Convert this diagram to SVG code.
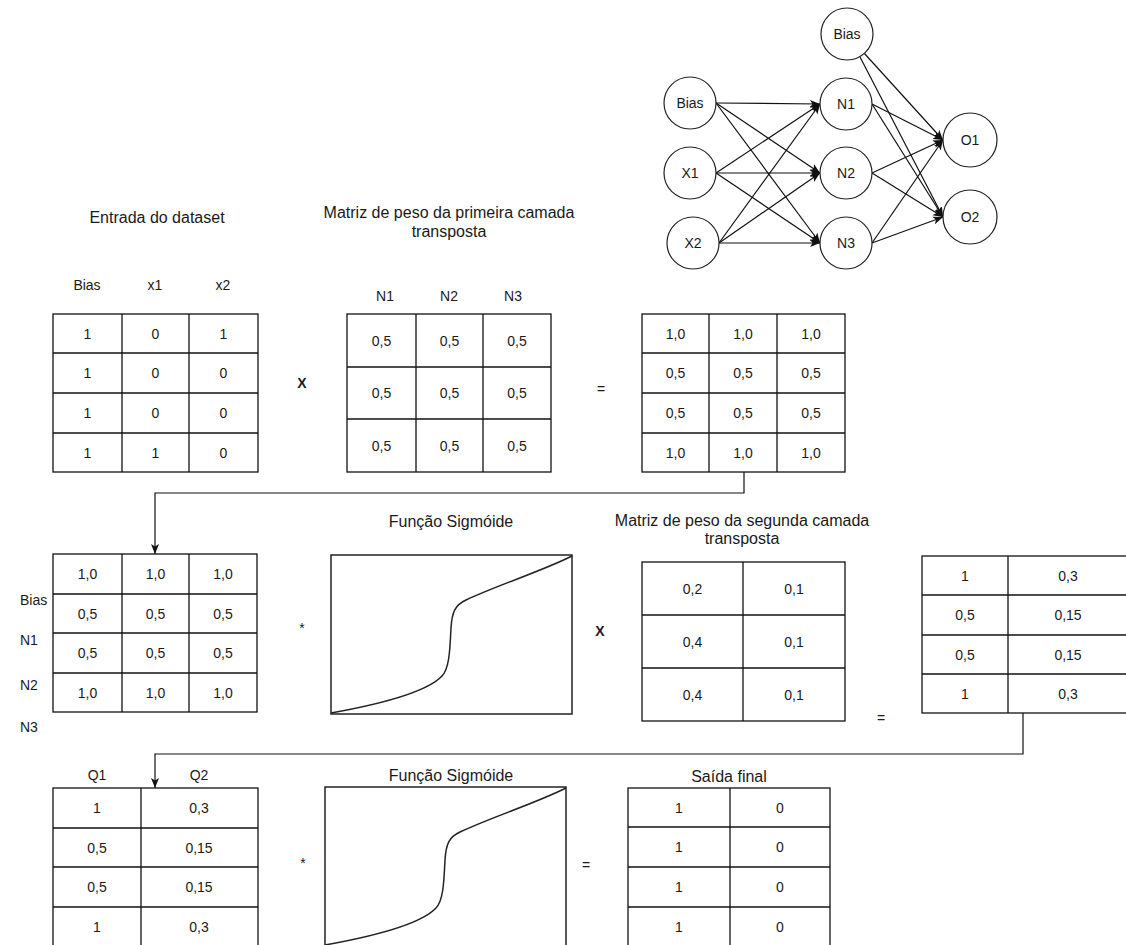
<svg xmlns="http://www.w3.org/2000/svg" width="1126" height="945" viewBox="0 0 1126 945">
  <style>
    text { font-family: "Liberation Sans", Arial, sans-serif; fill: #1a1a1a; }
    .cell { font-size: 14px; text-anchor: middle; dominant-baseline: central; }
    .title { font-size: 16px; text-anchor: middle; dominant-baseline: central; }
    .lbl { font-size: 14px; dominant-baseline: central; }
    .op { font-size: 14px; text-anchor: middle; dominant-baseline: central; }
    .opx { font-size: 14px; font-weight: bold; text-anchor: middle; dominant-baseline: central; }
    .grid rect, .grid line { fill: #fff; stroke: #111; stroke-width: 1.3; }
    .grid line { fill: none; }
    .node circle { fill: #fff; stroke: #222; stroke-width: 1.2; }
    .edge { fill: none; stroke: #111; stroke-width: 1.2; }
    .curve { fill: none; stroke: #222; stroke-width: 1.5; }
    .plot { fill: #fff; stroke: #222; stroke-width: 1.5; }
  </style>
  <defs>
    <marker id="arrow" markerUnits="userSpaceOnUse" markerWidth="11" markerHeight="10" refX="10" refY="5" orient="auto">
      <path d="M0,1 L10,5 L0,9 L2.5,5 z" fill="#111"/>
    </marker>
    <path id="sigmoid" d="M331,713 C370,706 425,694 442,676 C450,668 450,645 451,628 C452,612 455,605 466,600 C500,584 540,572 572,556"/>
  </defs>

  <rect width="1126" height="945" fill="#fff"/>

  <!-- network: connectors -->
  <g id="nn-connectors">
    <line class="edge" x1="716" y1="103" x2="820" y2="104" marker-end="url(#arrow)"/>
    <line class="edge" x1="716" y1="103" x2="820" y2="173" marker-end="url(#arrow)"/>
    <line class="edge" x1="716" y1="103" x2="820" y2="243" marker-end="url(#arrow)"/>
    <line class="edge" x1="716" y1="173" x2="820" y2="104" marker-end="url(#arrow)"/>
    <line class="edge" x1="716" y1="173" x2="820" y2="173" marker-end="url(#arrow)"/>
    <line class="edge" x1="716" y1="173" x2="820" y2="243" marker-end="url(#arrow)"/>
    <line class="edge" x1="719" y1="243" x2="820" y2="104" marker-end="url(#arrow)"/>
    <line class="edge" x1="719" y1="243" x2="820" y2="173" marker-end="url(#arrow)"/>
    <line class="edge" x1="719" y1="243" x2="820" y2="243" marker-end="url(#arrow)"/>
    <line class="edge" x1="872" y1="104" x2="943" y2="140" marker-end="url(#arrow)"/>
    <line class="edge" x1="872" y1="104" x2="943" y2="217" marker-end="url(#arrow)"/>
    <line class="edge" x1="872" y1="173" x2="943" y2="140" marker-end="url(#arrow)"/>
    <line class="edge" x1="872" y1="173" x2="943" y2="217" marker-end="url(#arrow)"/>
    <line class="edge" x1="872" y1="243" x2="943" y2="140" marker-end="url(#arrow)"/>
    <line class="edge" x1="872" y1="243" x2="943" y2="217" marker-end="url(#arrow)"/>
    <line class="edge" x1="864" y1="53" x2="943" y2="140" marker-end="url(#arrow)"/>
    <line class="edge" x1="860" y1="57" x2="943" y2="217" marker-end="url(#arrow)"/>
  </g>

  <!-- network: neurons -->
  <g id="nn-bias-in" class="node"><circle cx="690" cy="103" r="26"/><text class="cell" x="690" y="103">Bias</text></g>
  <g id="nn-x1" class="node"><circle cx="690" cy="173" r="26"/><text class="cell" x="690" y="173">X1</text></g>
  <g id="nn-x2" class="node"><circle cx="693" cy="243" r="26"/><text class="cell" x="693" y="243">X2</text></g>
  <g id="nn-bias-hidden" class="node"><circle cx="847" cy="34" r="26"/><text class="cell" x="847" y="34">Bias</text></g>
  <g id="nn-n1" class="node"><circle cx="846" cy="104" r="26"/><text class="cell" x="846" y="104">N1</text></g>
  <g id="nn-n2" class="node"><circle cx="846" cy="173" r="26"/><text class="cell" x="846" y="173">N2</text></g>
  <g id="nn-n3" class="node"><circle cx="846" cy="243" r="26"/><text class="cell" x="846" y="243">N3</text></g>
  <g id="nn-o1" class="node"><circle cx="970" cy="140" r="27"/><text class="cell" x="970" y="140">O1</text></g>
  <g id="nn-o2" class="node"><circle cx="970" cy="217" r="27"/><text class="cell" x="970" y="217">O2</text></g>

  <!-- flow connectors between stages -->
  <g id="connectors">
    <polyline class="edge" points="744,472 744,493 155,493 155,554" marker-end="url(#arrow)"/>
    <polyline class="edge" points="1023,713 1023,754 155,754 155,788" marker-end="url(#arrow)"/>
  </g>

  <!-- input dataset -->
  <g id="input-dataset">
    <text class="title" x="157" y="217">Entrada do dataset</text>
    <text class="cell" x="87" y="285">Bias</text>
    <text class="cell" x="155" y="285">x1</text>
    <text class="cell" x="223" y="285">x2</text>
    <g class="grid">
      <rect x="53" y="314" width="205" height="158"/>
      <line x1="122" y1="314" x2="122" y2="472"/><line x1="189" y1="314" x2="189" y2="472"/>
      <line x1="53" y1="353" x2="258" y2="353"/><line x1="53" y1="393" x2="258" y2="393"/><line x1="53" y1="433" x2="258" y2="433"/>
    </g>
    <text class="cell" x="87.5" y="333.5">1</text><text class="cell" x="155.5" y="333.5">0</text><text class="cell" x="223.5" y="333.5">1</text>
    <text class="cell" x="87.5" y="373">1</text><text class="cell" x="155.5" y="373">0</text><text class="cell" x="223.5" y="373">0</text>
    <text class="cell" x="87.5" y="413">1</text><text class="cell" x="155.5" y="413">0</text><text class="cell" x="223.5" y="413">0</text>
    <text class="cell" x="87.5" y="452.5">1</text><text class="cell" x="155.5" y="452.5">1</text><text class="cell" x="223.5" y="452.5">0</text>
  </g>

  <text id="op-mul-1" class="opx" x="302" y="383">X</text>

  <!-- first layer weights -->
  <g id="weights-layer1">
    <text class="title" x="449" y="212">Matriz de peso da primeira camada</text>
    <text class="title" x="449" y="231">transposta</text>
    <text class="cell" x="385" y="296">N1</text>
    <text class="cell" x="449" y="296">N2</text>
    <text class="cell" x="513" y="296">N3</text>
    <g class="grid">
      <rect x="347" y="314" width="204" height="158"/>
      <line x1="416" y1="314" x2="416" y2="472"/><line x1="483" y1="314" x2="483" y2="472"/>
      <line x1="347" y1="367" x2="551" y2="367"/><line x1="347" y1="419" x2="551" y2="419"/>
    </g>
    <text class="cell" x="381.5" y="340.5">0,5</text><text class="cell" x="449.5" y="340.5">0,5</text><text class="cell" x="517" y="340.5">0,5</text>
    <text class="cell" x="381.5" y="393">0,5</text><text class="cell" x="449.5" y="393">0,5</text><text class="cell" x="517" y="393">0,5</text>
    <text class="cell" x="381.5" y="445.5">0,5</text><text class="cell" x="449.5" y="445.5">0,5</text><text class="cell" x="517" y="445.5">0,5</text>
  </g>

  <text id="op-eq-1" class="op" x="601" y="389">=</text>

  <!-- hidden layer net input -->
  <g id="hidden-sum">
    <g class="grid">
      <rect x="642" y="314" width="203" height="158"/>
      <line x1="709" y1="314" x2="709" y2="472"/><line x1="777" y1="314" x2="777" y2="472"/>
      <line x1="642" y1="353" x2="845" y2="353"/><line x1="642" y1="393" x2="845" y2="393"/><line x1="642" y1="433" x2="845" y2="433"/>
    </g>
    <text class="cell" x="675.5" y="333.5">1,0</text><text class="cell" x="743" y="333.5">1,0</text><text class="cell" x="811" y="333.5">1,0</text>
    <text class="cell" x="675.5" y="373">0,5</text><text class="cell" x="743" y="373">0,5</text><text class="cell" x="811" y="373">0,5</text>
    <text class="cell" x="675.5" y="413">0,5</text><text class="cell" x="743" y="413">0,5</text><text class="cell" x="811" y="413">0,5</text>
    <text class="cell" x="675.5" y="452.5">1,0</text><text class="cell" x="743" y="452.5">1,0</text><text class="cell" x="811" y="452.5">1,0</text>
  </g>

  <!-- hidden layer input copy with row labels -->
  <g id="hidden-input">
    <text class="lbl" x="20" y="600">Bias</text>
    <text class="lbl" x="20" y="640">N1</text>
    <text class="lbl" x="20" y="685">N2</text>
    <text class="lbl" x="20" y="727">N3</text>
    <g class="grid">
      <rect x="53" y="554" width="204" height="158"/>
      <line x1="122" y1="554" x2="122" y2="712"/><line x1="189" y1="554" x2="189" y2="712"/>
      <line x1="53" y1="594" x2="257" y2="594"/><line x1="53" y1="633" x2="257" y2="633"/><line x1="53" y1="673" x2="257" y2="673"/>
    </g>
    <text class="cell" x="87.5" y="574">1,0</text><text class="cell" x="155.5" y="574">1,0</text><text class="cell" x="223" y="574">1,0</text>
    <text class="cell" x="87.5" y="613.5">0,5</text><text class="cell" x="155.5" y="613.5">0,5</text><text class="cell" x="223" y="613.5">0,5</text>
    <text class="cell" x="87.5" y="653">0,5</text><text class="cell" x="155.5" y="653">0,5</text><text class="cell" x="223" y="653">0,5</text>
    <text class="cell" x="87.5" y="692.5">1,0</text><text class="cell" x="155.5" y="692.5">1,0</text><text class="cell" x="223" y="692.5">1,0</text>
  </g>

  <text id="op-star-1" class="op" x="302" y="628">*</text>

  <!-- sigmoid, hidden layer -->
  <g id="sigmoid-hidden">
    <text class="title" x="451" y="521">Função Sigmóide</text>
    <rect class="plot" x="331" y="555" width="241" height="159"/>
    <use href="#sigmoid" class="curve"/>
  </g>

  <text id="op-mul-2" class="opx" x="600" y="631">X</text>

  <!-- second layer weights -->
  <g id="weights-layer2">
    <text class="title" x="742" y="520">Matriz de peso da segunda camada</text>
    <text class="title" x="742" y="538">transposta</text>
    <g class="grid">
      <rect x="642" y="562" width="203" height="159"/>
      <line x1="743" y1="562" x2="743" y2="721"/>
      <line x1="642" y1="615" x2="845" y2="615"/><line x1="642" y1="668" x2="845" y2="668"/>
    </g>
    <text class="cell" x="692.5" y="588.5">0,2</text><text class="cell" x="794" y="588.5">0,1</text>
    <text class="cell" x="692.5" y="641.5">0,4</text><text class="cell" x="794" y="641.5">0,1</text>
    <text class="cell" x="692.5" y="694.5">0,4</text><text class="cell" x="794" y="694.5">0,1</text>
  </g>

  <text id="op-eq-2" class="op" x="881" y="718">=</text>

  <!-- output layer net input -->
  <g id="output-sum">
    <g class="grid">
      <rect x="922" y="556" width="206" height="157"/>
      <line x1="1008" y1="556" x2="1008" y2="713"/>
      <line x1="922" y1="595" x2="1128" y2="595"/><line x1="922" y1="635" x2="1128" y2="635"/><line x1="922" y1="674" x2="1128" y2="674"/>
    </g>
    <text class="cell" x="965" y="575.5">1</text><text class="cell" x="1068" y="575.5">0,3</text>
    <text class="cell" x="965" y="615">0,5</text><text class="cell" x="1068" y="615">0,15</text>
    <text class="cell" x="965" y="654.5">0,5</text><text class="cell" x="1068" y="654.5">0,15</text>
    <text class="cell" x="965" y="693.5">1</text><text class="cell" x="1068" y="693.5">0,3</text>
  </g>

  <!-- output layer input copy -->
  <g id="output-input">
    <text class="cell" x="97" y="775">Q1</text>
    <text class="cell" x="199" y="775">Q2</text>
    <g class="grid">
      <rect x="53" y="788" width="205" height="158"/>
      <line x1="141" y1="788" x2="141" y2="946"/>
      <line x1="53" y1="828" x2="258" y2="828"/><line x1="53" y1="867" x2="258" y2="867"/><line x1="53" y1="907" x2="258" y2="907"/>
    </g>
    <text class="cell" x="97" y="808">1</text><text class="cell" x="199" y="808">0,3</text>
    <text class="cell" x="97" y="847.5">0,5</text><text class="cell" x="199" y="847.5">0,15</text>
    <text class="cell" x="97" y="887">0,5</text><text class="cell" x="199" y="887">0,15</text>
    <text class="cell" x="97" y="926.5">1</text><text class="cell" x="199" y="926.5">0,3</text>
  </g>

  <text id="op-star-2" class="op" x="303" y="863">*</text>

  <!-- sigmoid, output layer -->
  <g id="sigmoid-output">
    <text class="title" x="451" y="775">Função Sigmóide</text>
    <rect class="plot" x="325" y="787" width="241" height="159"/>
    <use href="#sigmoid" class="curve" transform="translate(-6,232)"/>
  </g>

  <text id="op-eq-3" class="op" x="586" y="865">=</text>

  <!-- final output -->
  <g id="final-output">
    <text class="title" x="729" y="776">Saída final</text>
    <g class="grid">
      <rect x="628" y="788" width="202" height="158"/>
      <line x1="730" y1="788" x2="730" y2="946"/>
      <line x1="628" y1="827" x2="830" y2="827"/><line x1="628" y1="867" x2="830" y2="867"/><line x1="628" y1="907" x2="830" y2="907"/>
    </g>
    <text class="cell" x="679" y="807.5">1</text><text class="cell" x="780" y="807.5">0</text>
    <text class="cell" x="679" y="847">1</text><text class="cell" x="780" y="847">0</text>
    <text class="cell" x="679" y="887">1</text><text class="cell" x="780" y="887">0</text>
    <text class="cell" x="679" y="926.5">1</text><text class="cell" x="780" y="926.5">0</text>
  </g>
</svg>
